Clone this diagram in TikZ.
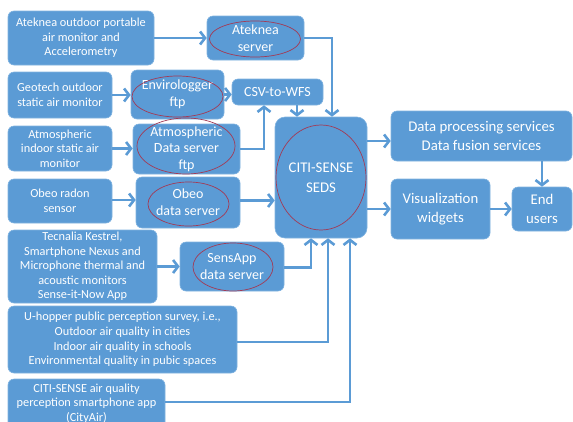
\documentclass[tikz,border=0pt]{standalone}
\usepackage{fontspec}
\setmainfont{Carlito}
\usetikzlibrary{arrows.meta,shapes.geometric}

\definecolor{boxblue}{HTML}{5B9BD5}
\definecolor{edgeblue}{HTML}{80B3E0}
\definecolor{ringred}{HTML}{A23A55}

\tikzset{
  box/.style={draw=edgeblue, line width=0.6pt, fill=boxblue, rounded corners=6pt,
    text=white, align=center, inner sep=0pt, font=\fontsize{12.3}{14.6}\selectfont},
  srv/.style={box, font=\fontsize{14}{16.7}\selectfont},
  big/.style={box, font=\fontsize{14.8}{19.5}\selectfont},
  ring/.style={draw=ringred, ellipse, line width=0.7pt, inner sep=0pt},
  flow/.style={draw=boxblue, line width=2.6pt, -{Straight Barb[length=5pt,width=13pt]}},
}

\begin{document}
\begin{tikzpicture}[x=1pt, y=-1pt]
  \clip (0,0) rectangle (573,421);

  % Fontes de dados
  \node[box, minimum width=146pt, minimum height=54pt] (atk) at (81,38) {Ateknea outdoor portable\\air monitor and\\Accelerometry};
  \node[box, minimum width=104pt, minimum height=46pt] (geo) at (60,95) {Geotech outdoor\\static air monitor};
  \node[box, minimum width=104pt, minimum height=45pt] (atm) at (60,148.5) {Atmospheric\\indoor static air\\monitor};
  \node[box, minimum width=104pt, minimum height=44pt] (obeo) at (60,201) {Obeo radon\\sensor};
  \node[box, minimum width=149pt, minimum height=73pt] (tec) at (82.5,266.5) {Tecnalia Kestrel,\\Smartphone Nexus and\\Microphone thermal and\\acoustic monitors\\Sense-it-Now App};
  \node[box, minimum width=229pt, minimum height=67pt] (uhop) at (122.5,339.5) {U-hopper public perception survey, i.e.,\\Outdoor air quality in cities\\Indoor air quality in schools\\Environmental quality in pubic spaces};
  \node[box, minimum width=157pt, minimum height=49pt] (app) at (86.5,403.5) {CITI-SENSE air quality\\perception smartphone app\\(CityAir)};

  % Servidores
  \node[srv, minimum width=97pt, minimum height=44pt] (atksrv) at (255.5,38) {Ateknea\\server};
  \node[srv, minimum width=93pt, minimum height=49pt] (envi) at (177.5,94.5) {Envirologger\\ftp};
  \node[srv, minimum width=91pt, minimum height=26pt] (csv) at (277.5,92) {CSV-to-WFS};
  \node[srv, minimum width=107pt, minimum height=50pt] (atmsrv) at (186.5,149) {Atmospheric\\Data server\\ftp};
  \node[srv, minimum width=104pt, minimum height=51pt] (obeosrv) at (188,202.5) {Obeo\\data server};
  \node[srv, minimum width=104pt, minimum height=49pt] (sens) at (232,266.5) {SensApp\\data server};

  % Plataforma e servicos
  \node[big, minimum width=92pt, minimum height=121pt, rounded corners=10pt] (seds) at (321,177.5) {CITI-SENSE\\SEDS};
  \node[big, minimum width=181pt, minimum height=50pt] (proc) at (481.5,136) {Data processing services\\Data fusion services};
  \node[big, minimum width=99pt, minimum height=60pt] (vis) at (440.5,209) {Visualization\\widgets};
  \node[big, minimum width=60pt, minimum height=44pt] (endu) at (542,209) {End\\users};

  % Elipses
  \foreach \name/\x/\y/\w/\h in {atksrv/255/39/91/36, envi/177.5/96.5/91/41,
      atmsrv/186/146/98/56, obeosrv/188.5/204/81/44, sens/233/267/80/48,
      seds/321/177.5/90/105} {
    \node[ring, minimum width=\w pt, minimum height=\h pt] (\name-ring) at (\x,\y) {};
  }

  % Setas
  \draw[flow] (atk) -- (atksrv);
  \draw[flow] (atksrv.east) -| ([xshift=11pt]seds.north);
  \draw[flow] (geo.east) -- (geo.east -| envi.west);
  \draw[flow] (envi.east) -- (envi.east -| csv.west);
  \draw[flow] (atm.east) -- (atm.east -| atmsrv.west);
  \draw[flow] (atmsrv.east) -| ([xshift=-13.5pt]csv.south);
  \draw[flow] ([xshift=19.5pt]csv.south) -- ([xshift=19.5pt]csv.south |- seds.north);
  \draw[flow] ([yshift=1pt]obeo.east) -- ([yshift=1pt]obeo.east -| obeosrv.west);
  \draw[flow] ([yshift=2pt]obeosrv.east) -- ([yshift=2pt]obeosrv.east -| seds.west);
  \draw[flow] (tec) -- (sens);
  \foreach \src/\dx/\dy in {sens/-10/-1, uhop/7/-2.5, app/29/1.5} {
    \draw[flow] ([yshift=\dy pt]\src.east) -| ([xshift=\dx pt]seds.south);
  }
  \draw[flow] ([yshift=-5pt]proc.west -| seds.east) -- ([yshift=-5pt]proc.west);
  \draw[flow] (seds.east |- vis.west) -- (vis.west);
  \draw[flow] (vis) -- (endu);
  \draw[flow] (proc.south -| endu.north) -- (endu.north);
\end{tikzpicture}
\end{document}
